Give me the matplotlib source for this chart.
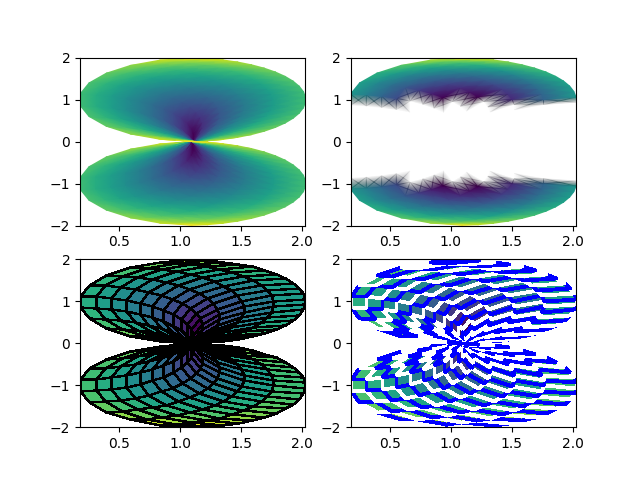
import numpy as np
import matplotlib
matplotlib.use('Agg')
import matplotlib.pyplot as plt
from matplotlib.colors import Normalize

# mesh node offsets, one half of each axis (the other half is mirrored)
col_cos = [0.99072, 0.91749, 0.77642, 0.57798, 0.33681, 0.07074]
col_sin = [0.13594, 0.39778, 0.63021, 0.81607, 0.94157, 0.99749]
row_cos = [0.99787, 0.98092, 0.94730, 0.89759, 0.83263, 0.75353,
           0.66161, 0.55846, 0.44583, 0.32562, 0.19987, 0.07074]
row_sin = [0.06517, 0.19440, 0.32034, 0.44083, 0.55384, 0.65742,
           0.74985, 0.82953, 0.89512, 0.94550, 0.97982, 0.99749]
x_shift = 1.1

# colour values for one quadrant of the mesh
z_quad = [
    [0.1512, 0.4143, 0.6849, 0.9568, 1.2290, 1.5014],
    [0.2385, 0.4535, 0.7094, 0.9744, 1.2428, 1.5127],
    [0.3535, 0.5232, 0.7558, 1.0087, 1.2699, 1.5350],
    [0.4764, 0.6130, 0.8205, 1.0581, 1.3094, 1.5679],
    [0.6026, 0.7155, 0.8997, 1.1206, 1.3604, 1.6108],
    [0.7302, 0.8258, 0.9897, 1.1941, 1.4216, 1.6627],
    [0.8587, 0.9414, 1.0880, 1.2767, 1.4916, 1.7230],
    [0.9878, 1.0604, 1.1925, 1.3668, 1.5695, 1.7908],
    [1.1171, 1.1818, 1.3016, 1.4630, 1.6539, 1.8653],
    [1.2466, 1.3049, 1.4143, 1.5641, 1.7440, 1.9456],
    [1.3764, 1.4294, 1.5299, 1.6694, 1.8390, 2.0312],
    [1.5062, 1.5548, 1.6477, 1.7780, 1.9381, 2.1213],
]

# build the full grid by mirroring
c_cos = np.array(col_cos)
c_sin = np.array(col_sin)
r_cos = np.array(row_cos)
r_sin = np.array(row_sin)
c_cos = np.r_[c_cos[::-1], c_cos]
c_sin = np.r_[-c_sin[::-1], c_sin]
r_cos = np.r_[r_cos[::-1], r_cos]
r_sin = np.r_[-r_sin[::-1], r_sin]

Qx = r_cos[:, None] - c_cos[None, :] + x_shift
Qz = r_sin[:, None] + c_sin[None, :]

right = np.array(z_quad)
right = np.r_[right[::-1], right]
Z = np.c_[right[:, ::-1], right]
Zm = np.ma.masked_where(np.abs(Qz) < 0.5 * np.max(Qz), Z)

# rgba nodes so the gouraud triangles fade out into the masked (transparent) nodes
Zm_rgba = plt.cm.viridis(Normalize(Zm.min(), Zm.max())(Zm))

fig = plt.figure()
ax1 = fig.add_subplot(2, 2, 1)
ax1.pcolormesh(Qx, Qz, Z, shading='gouraud')
ax2 = fig.add_subplot(2, 2, 2)
ax2.pcolormesh(Qx, Qz, Zm_rgba, shading='gouraud')
ax3 = fig.add_subplot(2, 2, 3)
ax3.pcolormesh(Qx, Qz, Z[:-1, :-1], lw=1, edgecolors='k')
ax4 = fig.add_subplot(2, 2, 4)
ax4.pcolormesh(Qx, Qz, Z[:-1, :-1], lw=[2, 1], edgecolors=['b', 'w'])

for ax in [ax1, ax2, ax3, ax4]:
    ax.set_ylim(-2, 2)

fig.savefig('out.png', dpi=100)
